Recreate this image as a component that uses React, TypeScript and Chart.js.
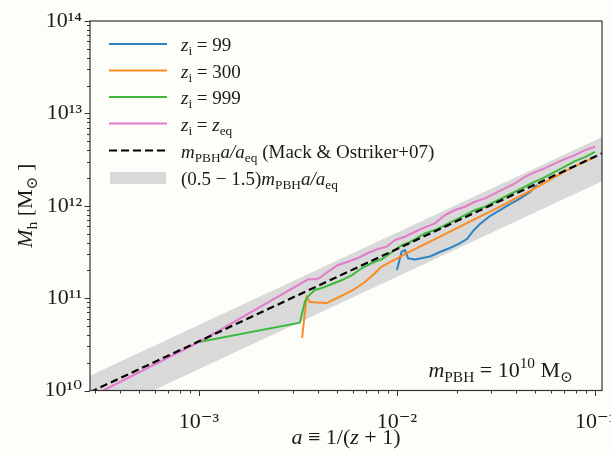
import React, { useEffect, useRef } from 'react';
import { Chart, registerables } from 'chart.js';

Chart.register(...registerables);

// ---------- data ----------
const aZeq = [3.29e-4, 1.0e-3, 3.565e-3, 3.93e-3, 4.13e-3, 4.48e-3, 5.04e-3, 5.655e-3, 6.35e-3, 7.14e-3, 8.02e-3, 8.9e-3, 9.77e-3, 1.098e-2, 1.233e-2, 1.385e-2, 1.556e-2, 1.748e-2, 1.963e-2, 2.205e-2, 2.477e-2, 2.783e-2, 3.126e-2, 3.511e-2, 3.945e-2, 4.43e-2, 4.98e-2, 5.59e-2, 6.66e-2, 7.93e-2, 8.9e-2, 0.1];
const mZeq = [1.0e10, 3.35e10, 1.597e11, 1.597e11, 1.692e11, 1.931e11, 2.282e11, 2.477e11, 2.716e11, 3.077e11, 3.399e11, 3.617e11, 4.255e11, 4.619e11, 5.231e11, 5.839e11, 6.449e11, 7.932e11, 8.986e11, 9.754e11, 1.105e12, 1.203e12, 1.362e12, 1.543e12, 1.748e12, 2.06e12, 2.316e12, 2.559e12, 3.047e12, 3.538e12, 4.007e12, 4.35e12];

const a999 = [1.0e-3, 3.236e-3, 3.43e-3, 3.565e-3, 3.85e-3, 4.18e-3, 4.7e-3, 5.28e-3, 5.93e-3, 6.66e-3, 7.48e-3, 8.4e-3, 9.01e-3, 9.77e-3, 1.06e-2, 1.137e-2, 1.233e-2, 1.385e-2, 1.556e-2, 1.748e-2, 1.963e-2, 2.205e-2, 2.477e-2, 2.783e-2, 3.126e-2, 3.511e-2, 3.945e-2, 4.43e-2, 4.98e-2, 5.59e-2, 6.66e-2, 7.93e-2, 8.9e-2, 0.1];
const m999 = [3.35e10, 5.42e10, 9.14e10, 1.054e11, 1.224e11, 1.286e11, 1.421e11, 1.57e11, 1.778e11, 2.117e11, 2.399e11, 2.65e11, 2.928e11, 3.316e11, 3.755e11, 3.947e11, 4.362e11, 5.027e11, 5.458e11, 6.182e11, 7.002e11, 7.932e11, 8.986e11, 9.754e11, 1.105e12, 1.252e12, 1.417e12, 1.606e12, 1.828e12, 2.045e12, 2.496e12, 3.047e12, 3.366e12, 3.84e12];

const a300 = [3.32e-3, 3.5e-3, 3.64e-3, 3.945e-3, 4.43e-3, 4.75e-3, 5.34e-3, 6.0e-3, 6.89e-3, 7.57e-3, 8.3e-3, 9.22e-3, 1.012e-2, 1.098e-2, 1.233e-2, 1.385e-2, 1.556e-2, 1.748e-2, 1.963e-2, 2.205e-2, 2.477e-2, 2.783e-2, 3.126e-2, 3.511e-2, 3.945e-2, 4.43e-2, 4.98e-2, 5.59e-2, 6.66e-2, 7.93e-2, 8.9e-2, 0.1];
const m300 = [3.7e10, 1.028e11, 9.07e10, 8.96e10, 8.85e10, 9.54e10, 1.08e11, 1.224e11, 1.494e11, 1.778e11, 2.171e11, 2.459e11, 2.716e11, 3.002e11, 3.399e11, 3.85e11, 4.362e11, 4.94e11, 5.596e11, 6.338e11, 7.179e11, 8.132e11, 9.211e11, 1.043e12, 1.197e12, 1.355e12, 1.555e12, 1.783e12, 2.203e12, 2.69e12, 3.009e12, 3.366e12];

const a99 = [1.0e-2, 1.056e-2, 1.098e-2, 1.14e-2, 1.233e-2, 1.307e-2, 1.468e-2, 1.649e-2, 1.852e-2, 2.081e-2, 2.257e-2, 2.42e-2, 2.626e-2, 2.949e-2, 3.313e-2, 3.721e-2, 4.18e-2, 4.7e-2, 5.1e-2];
const m99 = [2.014e11, 3.179e11, 3.316e11, 2.696e11, 2.617e11, 2.683e11, 2.82e11, 3.155e11, 3.485e11, 3.947e11, 4.362e11, 5.324e11, 6.338e11, 7.737e11, 8.986e11, 1.043e12, 1.197e12, 1.407e12, 1.675e12];

// m_PBH a / a_eq and the (0.5 - 1.5) band, at the two ends of the axis
const refA = [2.82e-4, 0.1085];
const refM = [9.6e9, 3.69e12];
const bandLowM = [4.8e9, 1.845e12];
const bandHighM = [1.44e10, 5.535e12];

const xMajor = [1e-3, 1e-2, 1e-1];
const xTickLabels = ['10\u207B\u00B3', '10\u207B\u00B2', '10\u207B\u00B9'];
const yMajor = [1e10, 1e11, 1e12, 1e13, 1e14];
const yTickLabels = ['10\u00B9\u2070', '10\u00B9\u00B9', '10\u00B9\u00B2', '10\u00B9\u00B3', '10\u00B9\u2074'];

const X_MIN = 2.82e-4;
const X_MAX = 0.1085;
const Y_MIN = 1e10;
const Y_MAX = 1e14;

const C_BLUE = '#2f83c3';
const C_ORANGE = '#fb8b22';
const C_GREEN = '#3dba3d';
const C_PINK = '#e37bcb';
const C_BAND = '#d9d9d9';
const C_TEXT = '#1a1a1a';
const C_FRAME = '#333333';
const C_BG = '#fdfdf9';

const FAM = '"Liberation Serif", "DejaVu Serif", "Times New Roman", serif';

type Seg = { t: string; it?: boolean; sub?: boolean; sup?: boolean };

function segFont(s: Seg, size: number) {
  const sz = s.sub || s.sup ? size * 0.7 : size;
  return `${s.it ? 'italic ' : ''}${sz}px ${FAM}`;
}
function richWidth(ctx: CanvasRenderingContext2D, segs: Seg[], size: number) {
  let w = 0;
  for (const s of segs) {
    ctx.font = segFont(s, size);
    w += ctx.measureText(s.t).width;
  }
  return w;
}
function drawRich(ctx: CanvasRenderingContext2D, segs: Seg[], x: number, y: number, size: number, align: 'left' | 'center' | 'right') {
  const w = richWidth(ctx, segs, size);
  let cx = align === 'left' ? x : align === 'center' ? x - w / 2 : x - w;
  ctx.textAlign = 'left';
  ctx.textBaseline = 'alphabetic';
  ctx.fillStyle = C_TEXT;
  for (const s of segs) {
    ctx.font = segFont(s, size);
    const dy = s.sub ? size * 0.22 : s.sup ? -size * 0.42 : 0;
    ctx.fillText(s.t, cx, y + dy);
    cx += ctx.measureText(s.t).width;
  }
}

const mPBH: Seg[] = [{ t: 'm', it: true }, { t: 'PBH', sub: true }, { t: 'a/a', it: true }, { t: 'eq', sub: true }];

const legendItems: { kind: 'line' | 'dash' | 'patch'; color: string; segs: Seg[] }[] = [
  { kind: 'line', color: C_BLUE, segs: [{ t: 'z', it: true }, { t: 'i', sub: true }, { t: ' = 99' }] },
  { kind: 'line', color: C_ORANGE, segs: [{ t: 'z', it: true }, { t: 'i', sub: true }, { t: ' = 300' }] },
  { kind: 'line', color: C_GREEN, segs: [{ t: 'z', it: true }, { t: 'i', sub: true }, { t: ' = 999' }] },
  { kind: 'line', color: C_PINK, segs: [{ t: 'z', it: true }, { t: 'i', sub: true }, { t: ' = ' }, { t: 'z', it: true }, { t: 'eq', sub: true }] },
  { kind: 'dash', color: '#000000', segs: [...mPBH, { t: ' (Mack & Ostriker+07)' }] },
  { kind: 'patch', color: C_BAND, segs: [{ t: '(0.5 \u2212 1.5)' }, ...mPBH] },
];
const legendRowsY = [44, 70.5, 97, 123.5, 150.5, 178];

const decorPlugin = {
  id: 'decor',
  beforeDraw(chart: any) {
    const ctx = chart.ctx as CanvasRenderingContext2D;
    ctx.save();
    ctx.fillStyle = C_BG;
    ctx.fillRect(0, 0, chart.width, chart.height);
    ctx.restore();
  },
  afterDraw(chart: any) {
    const ctx = chart.ctx as CanvasRenderingContext2D;
    const { left, right, top, bottom } = chart.chartArea;
    const xs = chart.scales.x;
    const ys = chart.scales.y;
    ctx.save();
    // frame
    ctx.strokeStyle = C_FRAME;
    ctx.lineWidth = 1.2;
    ctx.strokeRect(left, top, right - left, bottom - top);
    // ticks
    ctx.lineWidth = 1;
    ctx.beginPath();
    for (let n = -4; n <= -1; n++) {
      for (let k = 1; k <= 9; k++) {
        const v = k * Math.pow(10, n);
        if (v < X_MIN || v > X_MAX) continue;
        const px = Math.round(xs.getPixelForValue(v)) + 0.5;
        const len = k === 1 ? 5.5 : 3;
        ctx.moveTo(px, bottom);
        ctx.lineTo(px, bottom + len);
      }
    }
    for (let n = 10; n <= 14; n++) {
      for (let k = 1; k <= 9; k++) {
        const v = k * Math.pow(10, n);
        if (v < Y_MIN || v > Y_MAX) continue;
        const py = Math.round(ys.getPixelForValue(v)) + 0.5;
        const len = k === 1 ? 5.5 : 3;
        ctx.moveTo(left, py);
        ctx.lineTo(left - len, py);
      }
    }
    ctx.stroke();

    // axis titles
    drawRich(ctx, [{ t: 'a', it: true }, { t: ' \u2261 1/(' }, { t: 'z', it: true }, { t: ' + 1)' }], (left + right) / 2, 444, 22, 'center');
    ctx.save();
    ctx.translate(32, (top + bottom) / 2);
    ctx.rotate(-Math.PI / 2);
    drawRich(ctx, [{ t: 'M', it: true }, { t: 'h', sub: true }, { t: ' [M' }, { t: '\u2299', sub: true }, { t: ' ]' }], 0, 0, 22, 'center');
    ctx.restore();

    // annotation
    drawRich(ctx, [{ t: 'm', it: true }, { t: 'PBH', sub: true }, { t: ' = 10' }, { t: '10', sup: true }, { t: ' M' }, { t: '\u2299', sub: true }], 573, 377, 22, 'right');

    // legend
    legendItems.forEach((it, i) => {
      const y = legendRowsY[i];
      if (it.kind === 'patch') {
        ctx.fillStyle = it.color;
        ctx.fillRect(110, y - 6, 56, 12);
      } else {
        ctx.strokeStyle = it.color;
        ctx.lineWidth = 2;
        ctx.setLineDash(it.kind === 'dash' ? [8, 4] : []);
        ctx.beginPath();
        ctx.moveTo(109, y);
        ctx.lineTo(167, y);
        ctx.stroke();
        ctx.setLineDash([]);
      }
      drawRich(ctx, it.segs, 181, y + 7, 19, 'left');
    });
    ctx.restore();
  },
};

const pts = (xs: number[], ys: number[]) => xs.map((x, i) => ({ x, y: ys[i] }));

export default function App() {
  const ref = useRef<HTMLCanvasElement | null>(null);
  useEffect(() => {
    document.body.style.margin = '0';
    const canvas = ref.current;
    if (!canvas) return;
    const lineDs = (label: string, data: any[], color: string, extra: any = {}) => ({
      label,
      data,
      borderColor: color,
      backgroundColor: color,
      borderWidth: 2,
      pointRadius: 0,
      fill: false,
      tension: 0,
      ...extra,
    });
    const chart = new Chart(canvas, {
      type: 'line',
      data: {
        datasets: [
          lineDs('m_PBH a/a_eq (Mack & Ostriker+07)', pts(refA, refM), '#000000', { borderDash: [7.5, 4], borderWidth: 2.2 }),
          lineDs('z_i = z_eq', pts(aZeq, mZeq), C_PINK),
          lineDs('z_i = 999', pts(a999, m999), C_GREEN),
          lineDs('z_i = 300', pts(a300, m300), C_ORANGE),
          lineDs('z_i = 99', pts(a99, m99), C_BLUE),
          lineDs('(0.5-1.5) m_PBH a/a_eq', pts(refA, bandHighM), C_BAND, { borderWidth: 0, fill: '+1', backgroundColor: C_BAND }),
          lineDs('band low', pts(refA, bandLowM), C_BAND, { borderWidth: 0 }),
        ],
      },
      options: {
        responsive: false,
        maintainAspectRatio: false,
        animation: false,
        events: [],
        layout: { padding: { left: 0, right: 9, top: 21, bottom: 0 } },
        plugins: {
          legend: { display: false },
          tooltip: { enabled: false },
          title: { display: false },
        },
        scales: {
          x: {
            type: 'logarithmic',
            min: X_MIN,
            max: X_MAX,
            position: 'bottom',
            grid: { display: false, drawTicks: false },
            border: { display: false },
            ticks: {
              autoSkip: false,
              maxRotation: 0,
              minRotation: 0,
              padding: 19,
              color: C_TEXT,
              font: { family: FAM, size: 22 },
              callback: (v: any) => {
                const i = xMajor.findIndex((t) => Math.abs(t - Number(v)) / t < 1e-6);
                return i >= 0 ? xTickLabels[i] : '';
              },
            },
            afterBuildTicks: (s: any) => {
              s.ticks = xMajor.map((v) => ({ value: v }));
            },
            afterFit: (s: any) => {
              s.height = 62.5;
              s.paddingLeft = 0;
              s.paddingRight = 0;
            },
          },
          y: {
            type: 'logarithmic',
            min: Y_MIN,
            max: Y_MAX,
            grid: { display: false, drawTicks: false },
            border: { display: false },
            ticks: {
              autoSkip: false,
              padding: 8,
              color: C_TEXT,
              font: { family: FAM, size: 22 },
              callback: (v: any) => {
                const i = yMajor.findIndex((t) => Math.abs(t - Number(v)) / t < 1e-6);
                return i >= 0 ? yTickLabels[i] : '';
              },
            },
            afterBuildTicks: (s: any) => {
              s.ticks = yMajor.map((v) => ({ value: v }));
            },
            afterFit: (s: any) => {
              s.width = 90;
              s.paddingTop = 0;
              s.paddingBottom = 0;
            },
          },
        },
      } as any,
      plugins: [decorPlugin],
    });
    return () => chart.destroy();
  }, []);
  return (
    <div style={{ width: 611, height: 453, position: 'relative' }}>
      <canvas ref={ref} width={611} height={453} style={{ display: 'block' }} />
    </div>
  );
}
